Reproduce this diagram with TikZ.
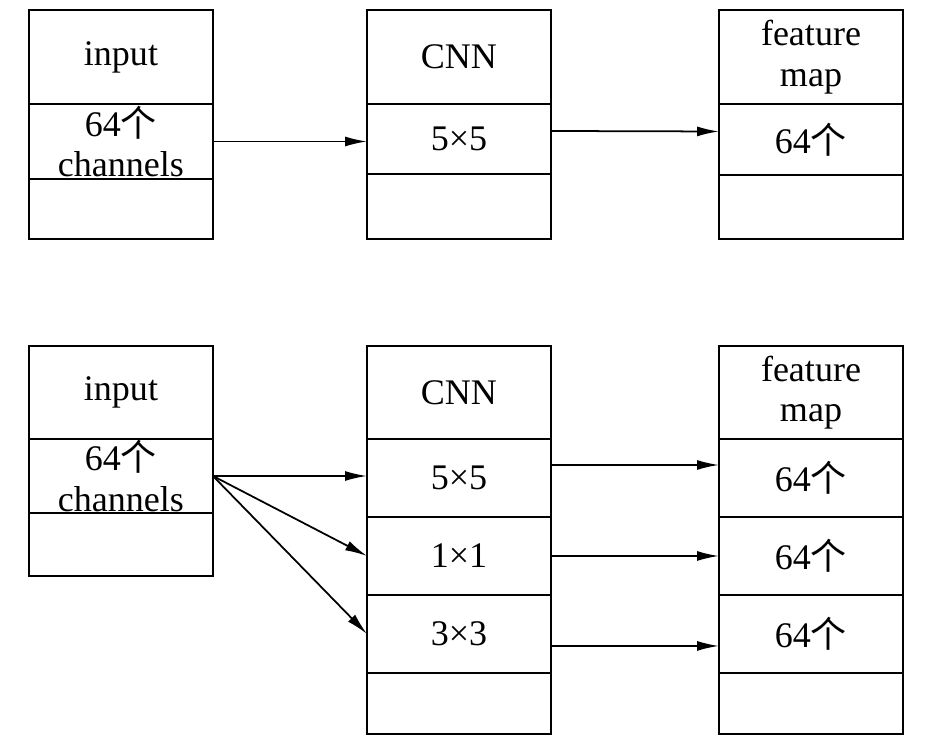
\documentclass[tikz,border=0pt]{standalone}
\usepackage{fontspec}
\setmainfont{Liberation Serif}
\newfontfamily\cjk{Noto Sans CJK SC}
\usetikzlibrary{arrows.meta,positioning}

\begin{document}
\begin{tikzpicture}[x=0.02cm,y=-0.02cm,
  cell/.style={draw, line width=1.1pt, outer sep=0pt, inner sep=0pt, minimum width=3.68cm,
    text width=3.6cm, align=center, font=\fontsize{20.5}{23}\selectfont},
  link/.style={line width=1pt, -{Latex[length=.44cm,width=.2cm]}}]
\useasboundingbox (0,0) rectangle (932,745);

% one CNN
\node[cell, minimum height=1.88cm, anchor=north west] (inA) at (29,10) {input};
\node[cell, minimum height=1.5cm, below=0pt of inA] (inB) {64{\cjk 个}\\channels};
\node[cell, minimum height=1.2cm, below=0pt of inB] (inC) {};

\node[cell, minimum height=1.88cm, anchor=north west] (cnnA) at (367,10) {CNN};
\node[cell, minimum height=1.4cm, below=0pt of cnnA] (cnnB) {5×5};
\node[cell, minimum height=1.3cm, below=0pt of cnnB] (cnnC) {};

\node[cell, minimum height=1.88cm, anchor=north west] (fmA) at (719,10) {feature\\map};
\node[cell, minimum height=1.42cm, below=0pt of fmA] (fmB) {64{\cjk 个}};
\node[cell, minimum height=1.28cm, below=0pt of fmB] (fmC) {};

\draw[link] (inB.east) -- (inB.east -| cnnB.west);
\draw[link] ([yshift=.16cm]cnnB.east) -- ([yshift=.16cm]fmB.west);

% three CNNs
\node[cell, minimum height=1.86cm, anchor=north west] (inD) at (29,346) {input};
\node[cell, minimum height=1.48cm, below=0pt of inD] (inE) {64{\cjk 个}\\channels};
\node[cell, minimum height=1.26cm, below=0pt of inE] (inF) {};

\node[cell, minimum height=1.86cm, anchor=north west] (cnnD) at (367,346) {CNN};
\node[cell, minimum height=1.56cm, below=0pt of cnnD] (cnnE) {5×5};
\node[cell, minimum height=1.56cm, below=0pt of cnnE] (cnnF) {1×1};
\node[cell, minimum height=1.56cm, below=0pt of cnnF] (cnnG) {3×3};
\node[cell, minimum height=1.22cm, below=0pt of cnnG] (cnnH) {};

\node[cell, minimum height=1.86cm, anchor=north west] (fmD) at (719,346) {feature\\map};
\node[cell, minimum height=1.56cm, below=0pt of fmD] (fmE) {64{\cjk 个}};
\node[cell, minimum height=1.56cm, below=0pt of fmE] (fmF) {64{\cjk 个}};
\node[cell, minimum height=1.56cm, below=0pt of fmF] (fmG) {64{\cjk 个}};
\node[cell, minimum height=1.22cm, below=0pt of fmG] (fmH) {};

\draw[link] (inE.east) -- (inE.east -| cnnE.west);
\draw[link] (inE.east) -- (cnnF.west);
\draw[link] (inE.east) -- (cnnG.west);

\draw[link] ([yshift=.26cm]cnnE.east) -- ([yshift=.26cm]fmE.west);
\draw[link] (cnnF.east) -- (fmF.west);
\draw[link] ([yshift=-.24cm]cnnG.east) -- ([yshift=-.24cm]fmG.west);
\end{tikzpicture}
\end{document}
